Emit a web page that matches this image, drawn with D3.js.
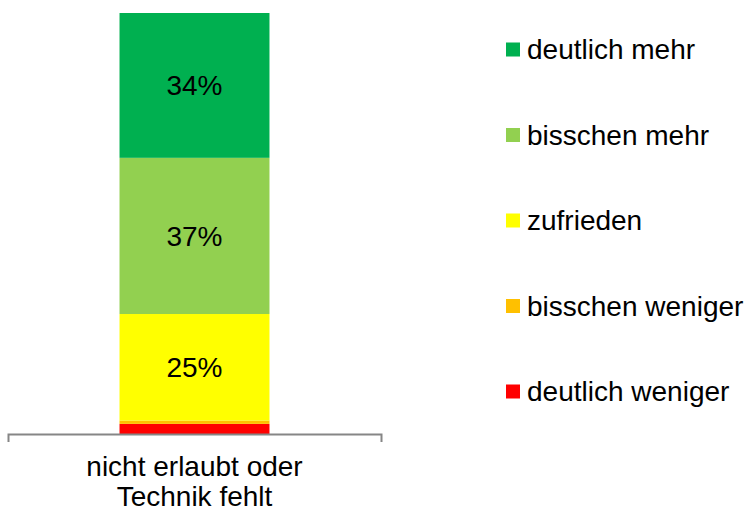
<!DOCTYPE html>
<html>
<head>
<meta charset="utf-8">
<script src="https://cdn.jsdelivr.net/npm/d3@7"></script>
<style>
  body { margin: 0; background: #fff; }
  text { font-family: "Liberation Sans", Arial, sans-serif; fill: #000; }
</style>
</head>
<body>
<svg id="chart" width="747" height="511"></svg>
<script>
// categories + series, bottom to top
var categories = ["nicht erlaubt oder\nTechnik fehlt"];
var seriesNames = ["deutlich weniger", "bisschen weniger", "zufrieden", "bisschen mehr", "deutlich mehr"];
var seriesColors = ["#FF0000", "#FFC000", "#FFFF00", "#92D050", "#00B050"];
var seriesValues = [2.4, 0.8, 25.3, 37.1, 34.4];

var svg = d3.select("#chart");

var x = d3.scaleBand().domain(categories).range([8, 381]).padding(0.4265);
var y = d3.scaleLinear().domain([0, 100]).range([434, 13]);

// stack the single category
var rows = categories.map(function (c) {
    var row = { cat: c };
    seriesNames.forEach(function (s, i) { row[s] = seriesValues[i]; });
    return row;
});
var stacked = d3.stack().keys(seriesNames)(rows);

var layers = svg.selectAll("g.layer")
    .data(stacked)
    .enter()
    .append("g")
    .attr("class", "layer")
    .attr("fill", function (d, i) { return seriesColors[i]; });

layers.selectAll("rect")
    .data(function (d) { return d; })
    .enter()
    .append("rect")
    .attr("x", function (d) { return x(d.data.cat); })
    .attr("width", x.bandwidth())
    .attr("y", function (d) { return y(d[1]); })
    .attr("height", function (d) { return y(d[0]) - y(d[1]); });

// value labels, only for the big segments
layers.selectAll("text")
    .data(function (d) { return d.filter(function (p) { return p[1] - p[0] >= 5; }); })
    .enter()
    .append("text")
    .attr("x", function (d) { return x(d.data.cat) + x.bandwidth() / 2; })
    .attr("y", function (d) { return (y(d[0]) + y(d[1])) / 2 + 10; })
    .attr("text-anchor", "middle")
    .style("font-size", "28px")
    .text(function (d) { return Math.round(d[1] - d[0]) + "%"; });

// category axis
var axis = svg.append("g")
    .attr("transform", "translate(0," + y(0) + ")")
    .call(d3.axisBottom(x).tickSizeInner(0).tickSizeOuter(8).tickFormat(""));
axis.select(".domain").attr("stroke", "#868686").attr("stroke-width", 2);
axis.selectAll(".tick line").remove();

categories.forEach(function (c) {
    var t = svg.append("text")
        .attr("text-anchor", "middle")
        .style("font-size", "28px");
    c.split("\n").forEach(function (line, i) {
        t.append("tspan")
            .attr("x", x(c) + x.bandwidth() / 2)
            .attr("y", 476 + i * 29.5)
            .text(line);
    });
});

// legend, top to bottom
var legendOrder = seriesNames.slice().reverse();
var legend = svg.selectAll("g.legend")
    .data(legendOrder)
    .enter()
    .append("g")
    .attr("class", "legend")
    .attr("transform", function (d, i) { return "translate(506," + (59 + i * 85.5) + ")"; });

legend.append("rect")
    .attr("x", 0)
    .attr("y", -16.5)
    .attr("width", 14)
    .attr("height", 14)
    .attr("fill", function (d) { return seriesColors[seriesNames.indexOf(d)]; });

legend.append("text")
    .attr("x", 21)
    .attr("y", 0)
    .style("font-size", "28px")
    .text(function (d) { return d; });
</script>
</body>
</html>
